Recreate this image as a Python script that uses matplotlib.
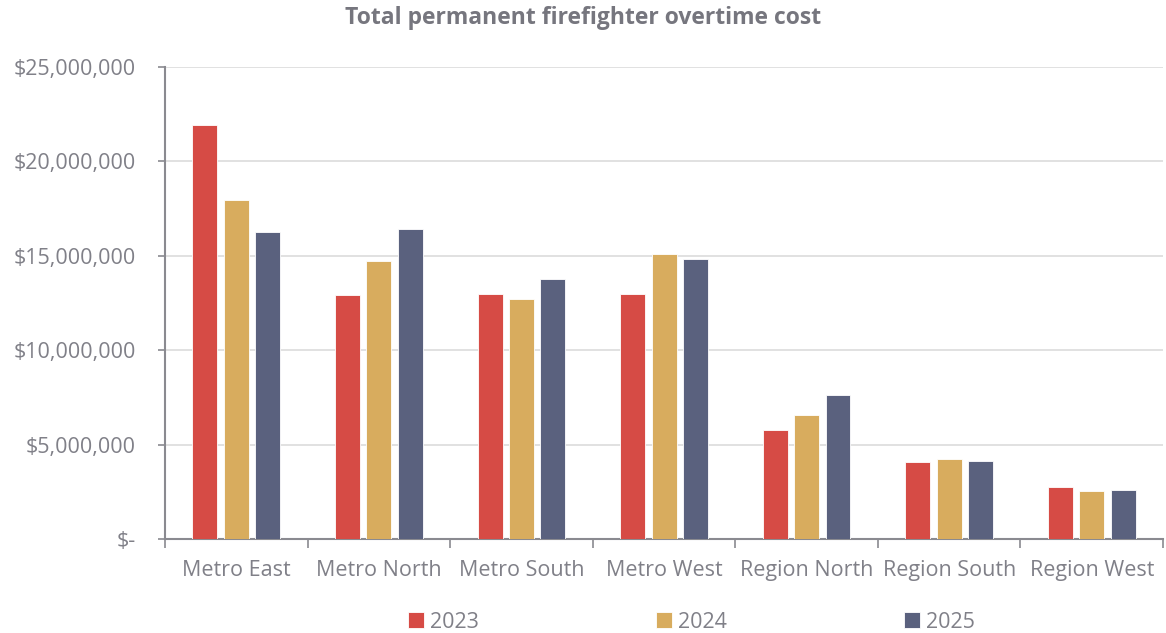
import numpy as np
import matplotlib.pyplot as plt
from matplotlib.ticker import FuncFormatter, FixedLocator

plt.rcParams['font.family'] = ['Open Sans', 'DejaVu Sans']

regions = ['Metro East', 'Metro North', 'Metro South', 'Metro West',
           'Region North', 'Region South', 'Region West']
years = ['2023', '2024', '2025']
cost_2023 = [21.91e6, 12.92e6, 12.98e6, 12.97e6, 5.78e6, 4.09e6, 2.77e6]
cost_2024 = [17.95e6, 14.71e6, 12.70e6, 15.08e6, 6.59e6, 4.23e6, 2.56e6]
cost_2025 = [16.24e6, 16.43e6, 13.78e6, 14.80e6, 7.63e6, 4.11e6, 2.59e6]
colors = ['#D64B45', '#D8AC5E', '#5A617E']

text_grey = '#808088'
axis_grey = '#8a8a90'

fig = plt.figure(figsize=(11.66, 6.33), dpi=100)
ax = fig.add_axes([0.1415, 0.1485, 0.856, 0.746])

x = np.arange(len(regions))
width = 0.175
step = 0.22
for i, (vals, year) in enumerate(zip([cost_2023, cost_2024, cost_2025], years)):
    ax.bar(x + (i - 1) * step, vals, width, color=colors[i], label=year,
           edgecolor='white', linewidth=0.6, zorder=3)

ax.set_xlim(-0.5, len(regions) - 0.5)
ax.set_ylim(0, 25e6)
ax.set_yticks(np.arange(0, 25e6 + 1, 5e6))
ax.yaxis.set_major_formatter(FuncFormatter(lambda v, p: '$-' if v == 0 else f'${v:,.0f}'))
ax.yaxis.grid(True, color='#dcdcdc', linewidth=1.2, zorder=0)

ax.set_xticks(x)
ax.set_xticklabels(regions)
ax.xaxis.set_minor_locator(FixedLocator(np.arange(-0.5, len(regions), 1.0)))
ax.tick_params(axis='x', which='major', length=0, pad=15, labelsize=15.5, labelcolor=text_grey)
ax.tick_params(axis='x', which='minor', length=6.5, width=1.2, color=axis_grey)
ax.tick_params(axis='y', length=5, width=1.2, color=axis_grey, labelsize=15.5,
               labelcolor=text_grey, pad=16)

for side in ['top', 'right']:
    ax.spines[side].set_visible(False)
for side in ['left', 'bottom']:
    ax.spines[side].set_color(axis_grey)
    ax.spines[side].set_linewidth(1.5)

# title is centred on the whole figure, not the plot area
fig.text(0.5, 0.972, 'Total permanent firefighter overtime cost', fontsize=16.5,
         fontweight='bold', color='#76767e', ha='center', va='center')

leg = fig.legend(loc='center', bbox_to_anchor=(0.593, 0.017), ncol=3,
                 frameon=False, fontsize=15.5, handlelength=0.75, handleheight=0.75,
                 handletextpad=0.3, columnspacing=8.2)
for t in leg.get_texts():
    t.set_color(text_grey)

fig.savefig('out.png', dpi=100)
